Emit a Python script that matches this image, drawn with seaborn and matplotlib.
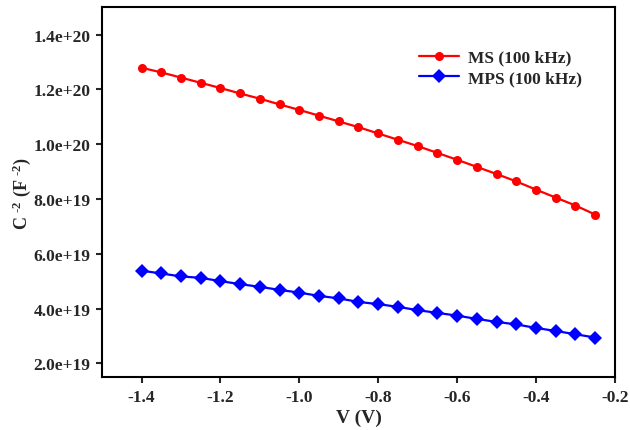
import matplotlib.pyplot as plt
import numpy as np
import pandas as pd
import seaborn as sns

# bias voltage (V)
voltage = [-1.40, -1.35, -1.30, -1.25, -1.20, -1.15, -1.10, -1.05, -1.00, -0.95,
           -0.90, -0.85, -0.80, -0.75, -0.70, -0.65, -0.60, -0.55, -0.50, -0.45,
           -0.40, -0.35, -0.30, -0.25]

# C^-2 values (F^-2)
ms_100k = [1.279e20, 1.262e20, 1.243e20, 1.224e20, 1.205e20, 1.185e20, 1.166e20, 1.145e20,
           1.125e20, 1.104e20, 1.083e20, 1.062e20, 1.039e20, 1.016e20, 0.993e20, 0.968e20,
           0.943e20, 0.917e20, 0.891e20, 0.864e20, 0.834e20, 0.805e20, 0.776e20, 0.743e20]
mps_100k = [5.38e19, 5.28e19, 5.17e19, 5.12e19, 5.00e19, 4.89e19, 4.79e19, 4.68e19,
            4.58e19, 4.46e19, 4.37e19, 4.24e19, 4.16e19, 4.06e19, 3.94e19, 3.84e19,
            3.74e19, 3.62e19, 3.51e19, 3.42e19, 3.29e19, 3.18e19, 3.06e19, 2.94e19]

series_names = ["MS (100 kHz)", "MPS (100 kHz)"]

df_ms = pd.DataFrame({"V": voltage, "C": ms_100k})
df_mps = pd.DataFrame({"V": voltage, "C": mps_100k})

sns.set_style("ticks")
plt.rcParams['font.family'] = ['Liberation Serif', 'DejaVu Serif']
plt.rcParams['font.weight'] = 'bold'
plt.rcParams['mathtext.fontset'] = 'custom'
plt.rcParams['mathtext.rm'] = 'Liberation Serif:bold'
plt.rcParams['mathtext.default'] = 'rm'

fig, ax = plt.subplots(figsize=(6.3, 4.31), dpi=100)
fig.subplots_adjust(left=0.162, right=0.976, top=0.981, bottom=0.123)

sns.lineplot(data=df_ms, x="V", y="C", color="#ff0000", marker="o",
             linewidth=1.6, markersize=6.5, markeredgewidth=0,
             label=series_names[0], ax=ax)
sns.lineplot(data=df_mps, x="V", y="C", color="#0000ff", marker="D",
             linewidth=1.6, markersize=7.3, markeredgewidth=0,
             label=series_names[1], ax=ax)

ax.set_xlim(-1.5, -0.2)
ax.set_ylim(1.5e19, 1.5e20)
xt = np.arange(-1.4, -0.19, 0.2)
ax.set_xticks(xt)
ax.set_xticklabels([f"{t:.1f}" for t in xt])
yt = np.arange(2e19, 1.41e20, 2e19)
ax.set_yticks(yt)
ax.set_yticklabels([f"{t:.1e}" for t in yt])

ax.tick_params(axis='both', labelsize=12.5, width=1.5, length=4.5, direction='out',
               top=False, right=False, pad=4)
for lab in ax.get_xticklabels() + ax.get_yticklabels():
    lab.set_fontweight('bold')
for sp in ax.spines.values():
    sp.set_linewidth(1.5)
    sp.set_color('black')

ax.set_xlabel("V (V)", fontsize=14, fontweight='bold', labelpad=3)
ax.set_ylabel(r"C $^{\text{-2}}$ (F $^{\text{-2}}$)", fontsize=13, fontweight='bold', labelpad=0)

ax.legend(loc='upper left', bbox_to_anchor=(0.588, 0.928), frameon=False,
          prop={'weight': 'bold', 'size': 12.5}, handlelength=2.3,
          labelspacing=0.25, handletextpad=0.5)

fig.savefig("out.png", dpi=100, facecolor='white')
